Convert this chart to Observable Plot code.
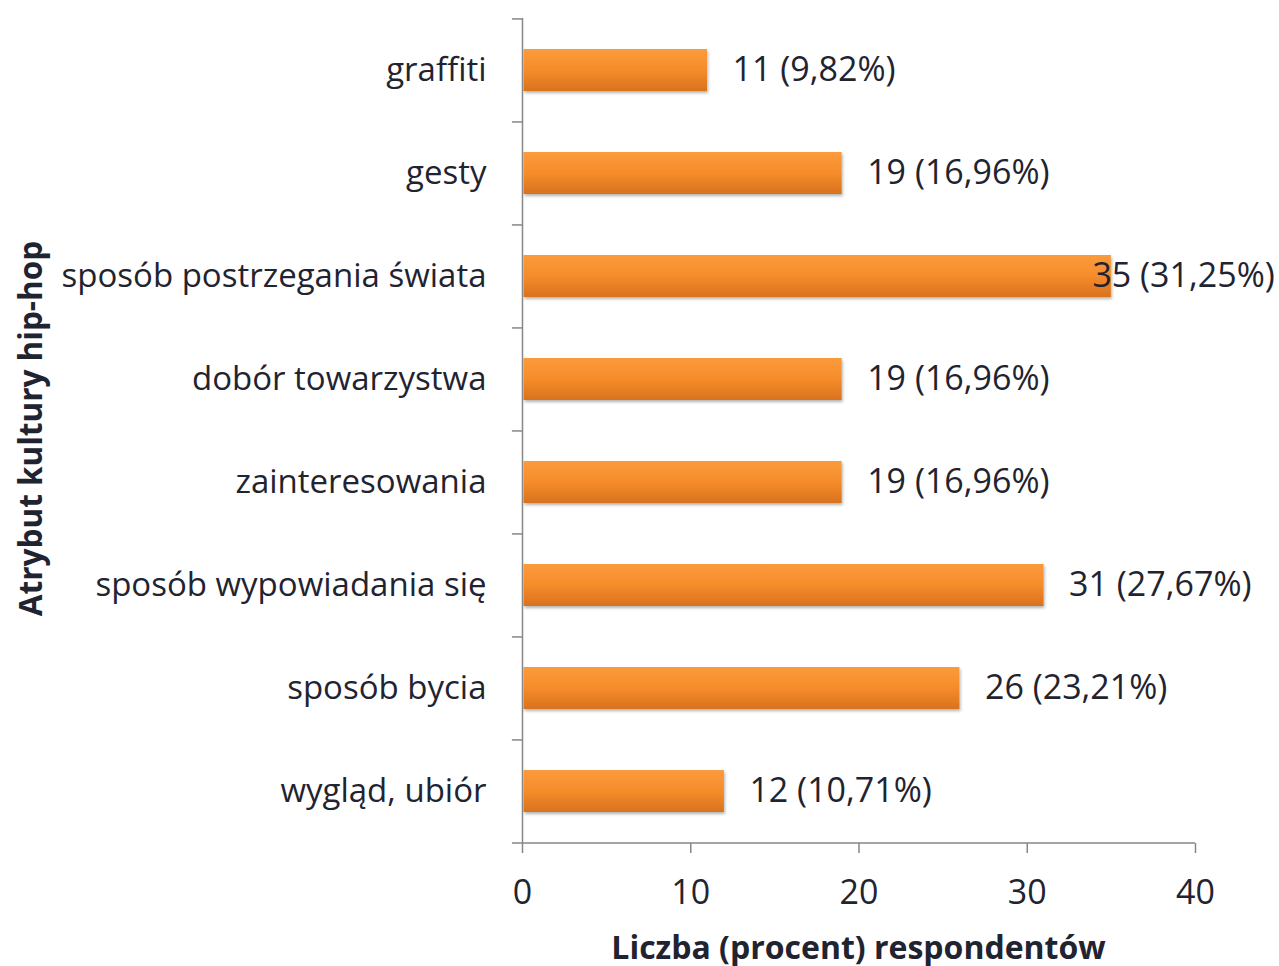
<!DOCTYPE html>
<html>
<head>
<meta charset="utf-8">
<script src="https://cdn.jsdelivr.net/npm/d3@7"></script>
<script src="https://cdn.jsdelivr.net/npm/@observablehq/plot@0.6"></script>
<style>
  html, body { margin: 0; padding: 0; background: #fff; }
  #chart { width: 1279px; height: 966px; }
  svg { overflow: visible; }
</style>
</head>
<body>
<div id="chart"></div>
<script>
const categories = ["graffiti", "gesty", "sposób postrzegania świata", "dobór towarzystwa", "zainteresowania", "sposób wypowiadania się", "sposób bycia", "wygląd, ubiór"];
const counts = [11, 19, 35, 19, 19, 31, 26, 12];
const percents = ["9,82%", "16,96%", "31,25%", "16,96%", "16,96%", "27,67%", "23,21%", "10,71%"];
const xTicks = [0, 10, 20, 30, 40];
const xTitle = "Liczba (procent) respondentów";
const yTitle = "Atrybut kultury hip-hop";

const data = categories.map((c, i) => ({cat: c, n: counts[i], label: `${counts[i]} (${percents[i]})`}));
const xMax = 40;
const fits = d => d.n < 33;

const W = 1279, H = 966, mL = 522, mR = 84, mT = 18, mB = 123;
const step = (H - mT - mB) / categories.length;
const axisColor = "#878787";
const textColor = "#1f2430";
const font = "'Open Sans', sans-serif";

const chart = Plot.plot({
  width: W, height: H,
  marginLeft: mL, marginRight: mR, marginTop: mT, marginBottom: mB,
  style: {fontFamily: font, background: "#fff", overflow: "visible"},
  x: {domain: [0, xMax], ticks: xTicks, label: null},
  y: {domain: categories, paddingInner: 0.59, paddingOuter: 0.295, label: null},
  marks: [
    () => {
      const svg = d3.create("svg:defs");
      const g = svg.append("linearGradient").attr("id", "barGrad").attr("x1", 0).attr("x2", 0).attr("y1", 0).attr("y2", 1);
      g.append("stop").attr("offset", "0%").attr("stop-color", "#fb9b3c");
      g.append("stop").attr("offset", "50%").attr("stop-color", "#f68c2a");
      g.append("stop").attr("offset", "100%").attr("stop-color", "#d8721e");
      const f = svg.append("filter").attr("id", "shadow").attr("x", "-5%").attr("y", "-20%").attr("width", "110%").attr("height", "160%");
      f.append("feDropShadow").attr("dx", 1).attr("dy", 2).attr("stdDeviation", 1.5).attr("flood-color", "#000").attr("flood-opacity", 0.3);
      return svg.node();
    },
    Plot.barX(data, {y: "cat", x: "n", fill: "url(#barGrad)", insetLeft: 1.5}),
    Plot.text(data.filter(fits), {y: "cat", x: "n", text: "label", textAnchor: "start", dx: 25, fontSize: 34, fill: textColor}),
    Plot.text(data.filter(d => !fits(d)), {y: "cat", x: "n", text: "label", textAnchor: "start", dx: -19, fontSize: 34, fill: textColor}),
    // y axis line and category boundary ticks
    Plot.ruleX([0], {stroke: axisColor, strokeWidth: 1.5}),
    Plot.ruleY(categories, {y: d => d, x1: -0.6, x2: 0, dy: -step / 2, stroke: axisColor, strokeWidth: 1.5}),
    Plot.ruleY(categories.slice(-1), {y: d => d, x1: -0.6, x2: xMax, dy: step / 2, stroke: axisColor, strokeWidth: 1.5}),
    Plot.axisY({tickSize: 0, tickPadding: 36, fontSize: 33, fill: textColor, label: null}),
    // x axis
    Plot.axisX({ticks: xTicks, tickSize: 10, tickPadding: 26, fontSize: 34, stroke: axisColor, strokeWidth: 1.5, fill: textColor, label: null}),
  ]
});

const wrap = d3.select("#chart");
wrap.node().appendChild(chart);
const svg = d3.select(chart);
svg.selectAll('g[aria-label="bar"]').attr("filter", "url(#shadow)");
svg.append("text")
  .attr("x", (mL + W - mR) / 2).attr("y", 959)
  .attr("text-anchor", "middle")
  .attr("font-family", font).attr("font-weight", "bold").attr("font-size", 32).attr("fill", textColor)
  .text(xTitle);
svg.append("text")
  .attr("transform", `translate(42, ${(mT + H - mB) / 2 - 2}) rotate(-90)`)
  .attr("text-anchor", "middle")
  .attr("font-family", font).attr("font-weight", "bold").attr("font-size", 31.5).attr("fill", textColor)
  .text(yTitle);
</script>
</body>
</html>
